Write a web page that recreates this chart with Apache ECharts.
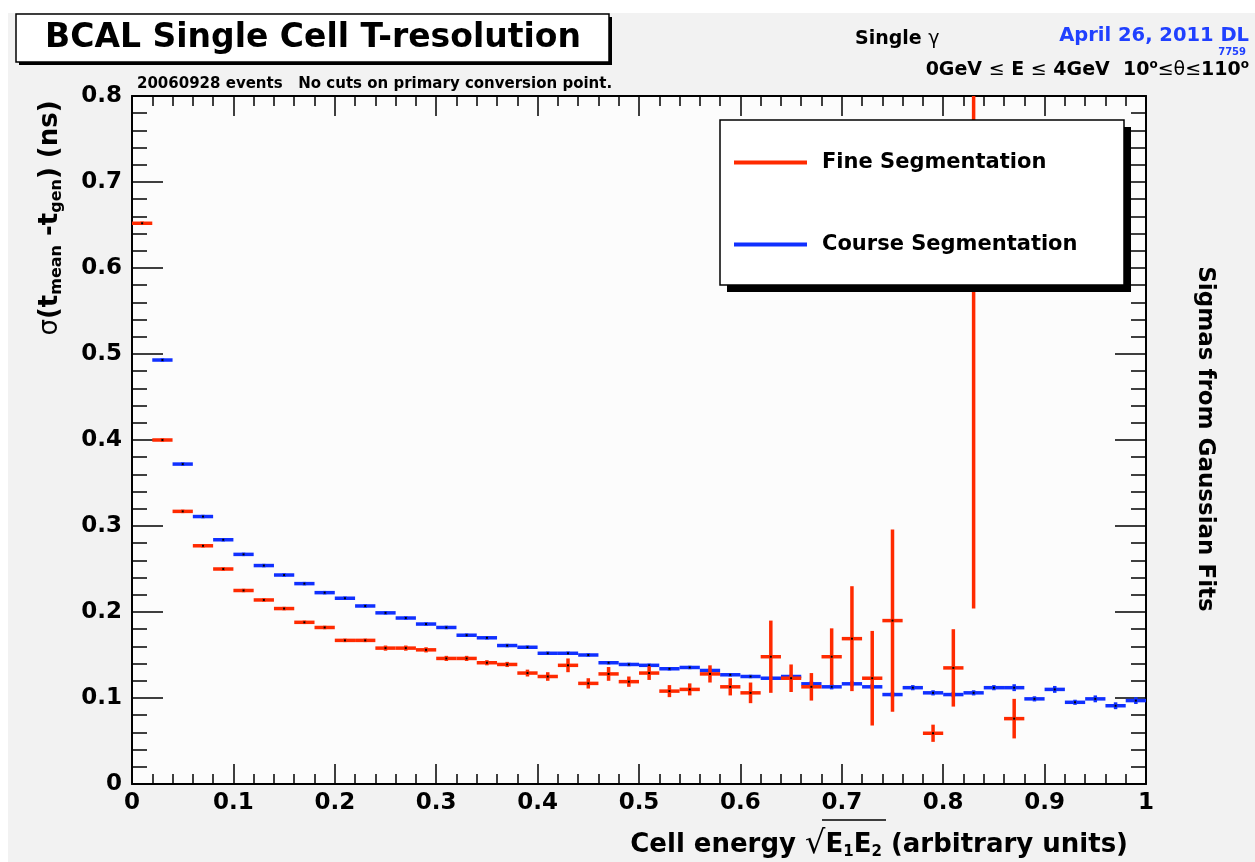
<!DOCTYPE html>
<html><head><meta charset="utf-8">
<script src="https://cdn.jsdelivr.net/npm/echarts@6/dist/echarts.min.js"></script>
<style>html,body{margin:0;padding:0;background:#fff}#c{width:1255px;height:862px}</style>
</head><body><div id="c"></div>
<script>
// ---- data ----
const binCenters = [0.01,0.03,0.05,0.07,0.09,0.11,0.13,0.15,0.17,0.19,
  0.21,0.23,0.25,0.27,0.29,0.31,0.33,0.35,0.37,0.39,
  0.41,0.43,0.45,0.47,0.49,0.51,0.53,0.55,0.57,0.59,
  0.61,0.63,0.65,0.67,0.69,0.71,0.73,0.75,0.77,0.79,
  0.81,0.83,0.85,0.87,0.89,0.91,0.93,0.95,0.97,0.99];
const binHalfWidth = 0.01;
const fineValues = [0.652,0.400,0.317,0.277,0.250,0.225,0.214,0.204,0.188,0.182,
  0.167,0.167,0.158,0.158,0.156,0.146,0.146,0.141,0.139,0.129,
  0.125,0.138,0.117,0.128,0.119,0.129,0.108,0.110,0.128,0.113,
  0.106,0.148,0.123,0.113,0.148,0.169,0.123,0.190,null,0.059,
  0.135,1.000,null,0.076,null,null,null,null,null,null];
const fineErrors = [0.002,0.002,0.002,0.002,0.002,0.002,0.002,0.002,0.002,0.002,
  0.002,0.002,0.003,0.003,0.003,0.003,0.003,0.003,0.003,0.004,
  0.005,0.008,0.006,0.008,0.006,0.008,0.007,0.007,0.010,0.010,
  0.012,0.042,0.016,0.016,0.033,0.061,0.055,0.106,null,0.010,
  0.045,0.796,null,0.023,null,null,null,null,null,null];
const courseValues = [null,0.493,0.372,0.311,0.284,0.267,0.254,0.243,0.233,0.2225,
  0.216,0.207,0.199,0.193,0.186,0.182,0.173,0.170,0.161,0.159,
  0.152,0.152,0.150,0.141,0.139,0.138,0.134,0.1355,0.132,0.127,
  0.125,0.123,0.125,0.1165,0.113,0.1165,0.113,0.104,0.112,0.106,
  0.104,0.106,0.112,0.112,0.099,0.110,0.095,0.099,0.091,0.097];
const courseErrors = [null,0.002,0.002,0.002,0.002,0.002,0.002,0.002,0.002,0.002,
  0.002,0.002,0.002,0.002,0.002,0.002,0.002,0.002,0.002,0.002,
  0.002,0.002,0.002,0.002,0.002,0.002,0.002,0.002,0.002,0.002,
  0.002,0.002,0.002,0.003,0.003,0.003,0.003,0.003,0.003,0.003,
  0.003,0.003,0.003,0.004,0.003,0.004,0.003,0.004,0.004,0.004];
const xTicks = {min:0, max:1, interval:0.1};
const yTicks = {min:0, max:0.8, interval:0.1};

// ---- build ----
function pts(vals, errs){
  const out=[];
  binCenters.forEach((x,i)=>{ if(vals[i]!=null) out.push([x, vals[i], errs[i]]); });
  return out;
}
const RED='#ff2a00', BLUE='#1030ff';
const FONT="'DejaVu Sans', Verdana, sans-serif";

function renderErr(params, api){
  const x=api.value(0), y=api.value(1), e=api.value(2);
  const c=api.visual('color');
  const l=api.coord([x-binHalfWidth,y]), r=api.coord([x+binHalfWidth,y]);
  const t=api.coord([x,y+e]), b=api.coord([x,y-e]);
  const m=api.coord([x,y]);
  return {type:'group', children:[
    {type:'line', shape:{x1:l[0],y1:l[1],x2:r[0],y2:r[1]}, style:{stroke:c,lineWidth:3.5}},
    {type:'line', shape:{x1:t[0],y1:t[1],x2:b[0],y2:b[1]}, style:{stroke:c,lineWidth:3.5}},
    {type:'rect', shape:{x:m[0]-1,y:m[1]-1,width:2,height:2}, style:{fill:'#000'}}
  ]};
}

function mkAxis(base, tickLen, minorLen, showLabel, margin){
  return Object.assign({type:'value'}, base, {
    axisLine:{show:true,onZero:false,lineStyle:{color:'#000',width:2}},
    splitLine:{show:false},
    axisTick:{show:true,inside:true,length:tickLen,lineStyle:{color:'#000',width:1.5}},
    minorTick:{show:true,splitNumber:5,length:minorLen,lineStyle:{color:'#000',width:1.5}},
    axisLabel: showLabel ? {margin:margin,fontFamily:FONT,fontWeight:'bold',fontSize:23,color:'#000'} : {show:false}
  });
}

const chart = echarts.init(document.getElementById('c'), null, {renderer:'canvas'});
chart.setOption({
  backgroundColor:'#f2f2f2',
  animation:false,
  grid:{left:132,top:96,width:1014,height:688,show:true,backgroundColor:'#fcfcfc',borderWidth:0},
  xAxis:[
    mkAxis(Object.assign({position:'bottom'},xTicks),20,10,true,8),
    mkAxis(Object.assign({position:'top'},xTicks),20,10,false,0)
  ],
  yAxis:[
    mkAxis(Object.assign({position:'left'},yTicks),31,15,true,10),
    mkAxis(Object.assign({position:'right'},yTicks),31,15,false,0)
  ],
  legend:{
    z:30, orient:'vertical', left:729, top:147, itemGap:61,
    icon:'rect', itemWidth:73, itemHeight:4,
    textStyle:{fontFamily:FONT,fontWeight:'bold',fontSize:21,color:'#000',padding:[0,0,0,10]},
    data:['Fine Segmentation','Course Segmentation']
  },
  series:[
    {name:'Course Segmentation',type:'custom',clip:true,itemStyle:{color:BLUE},
     renderItem:renderErr,encode:{x:0,y:1},data:pts(courseValues,courseErrors),z:3},
    {name:'Fine Segmentation',type:'custom',clip:true,itemStyle:{color:RED},
     renderItem:renderErr,encode:{x:0,y:1},data:pts(fineValues,fineErrors),z:4}
  ],
  graphic:[
    {type:'rect',z:0,shape:{x:0,y:0,width:1255,height:13},style:{fill:'#fff'}},
    {type:'rect',z:0,shape:{x:0,y:0,width:8,height:862},style:{fill:'#fff'}},
    // title box
    {type:'rect',z:10,shape:{x:19,y:17,width:593,height:48},style:{fill:'#000'}},
    {type:'rect',z:11,shape:{x:16,y:14,width:593,height:48},style:{fill:'#fff',stroke:'#000',lineWidth:1.5}},
    {type:'text',z:12,x:313,y:38,style:{text:'BCAL Single Cell T-resolution',font:"bold 33px "+FONT,fill:'#000',align:'center',verticalAlign:'middle'}},
    // subtitle
    {type:'text',z:12,x:137,y:84,style:{text:'20060928 events   No cuts on primary conversion point.',font:"bold 15px "+FONT,fill:'#000',align:'left',verticalAlign:'middle'}},
    {type:'text',z:12,x:855,y:39,style:{text:'{b|Single }{s|γ}',align:'left',verticalAlign:'middle',
      rich:{b:{font:"bold 19px "+FONT,fill:'#000'},s:{font:"19px "+FONT,fill:'#000'}}}},
    {type:'text',z:12,x:1249,y:36,style:{text:'April 26, 2011 DL',font:"bold 19.5px "+FONT,fill:'#2040ff',align:'right',verticalAlign:'middle'}},
    {type:'text',z:12,x:1246,y:52,style:{text:'7759',font:"bold 10px "+FONT,fill:'#2040ff',align:'right',verticalAlign:'middle'}},
    {type:'text',z:12,x:1249,y:70,style:{text:'{b|0GeV }{s|≤}{b| E }{s|≤}{b| 4GeV  10}{u|o}{s|≤θ≤}{b|110}{u|o}',align:'right',verticalAlign:'middle',
      rich:{b:{font:"bold 19px "+FONT,fill:'#000'},s:{font:"19px "+FONT,fill:'#000'},u:{font:"bold 12px "+FONT,fill:'#000',padding:[0,0,10,0]}}}},
    // legend box
    {type:'rect',z:20,shape:{x:727,y:127,width:404,height:165},style:{fill:'#000'}},
    {type:'rect',z:21,shape:{x:720,y:120,width:404,height:165},style:{fill:'#fff',stroke:'#000',lineWidth:1.5}},
    // y title
    {type:'text',z:12,x:50,y:218,rotation:Math.PI/2,style:{
      text:'{g|σ}{b|(t}{s|mean}{b| -t}{s|gen}{b|) (ns)}',align:'center',verticalAlign:'middle',
      rich:{g:{font:"26px "+FONT,fill:'#000'},b:{font:"bold 26px "+FONT,fill:'#000'},s:{font:"bold 16px "+FONT,fill:'#000',padding:[14,0,0,0]}}}},
    // right title
    {type:'text',z:12,x:1205,y:439,rotation:-Math.PI/2,style:{text:'Sigmas from Gaussian Fits',font:"bold 23px "+FONT,fill:'#000',align:'center',verticalAlign:'middle'}},
    // x title
    {type:'text',z:12,x:1128,y:845,style:{
      text:'{b|Cell energy }{r|√}{b|E}{s|1}{b|E}{s|2}{b| (arbitrary units)}',align:'right',verticalAlign:'middle',
      rich:{b:{font:"bold 26px "+FONT,fill:'#000'},r:{font:"32px "+FONT,fill:'#000'},s:{font:"bold 15px "+FONT,fill:'#000',padding:[14,0,0,0]}}}},
    {type:'line',z:12,shape:{x1:822,y1:820,x2:886,y2:820},style:{stroke:'#000',lineWidth:1.5}}
  ]
});
</script></body></html>
